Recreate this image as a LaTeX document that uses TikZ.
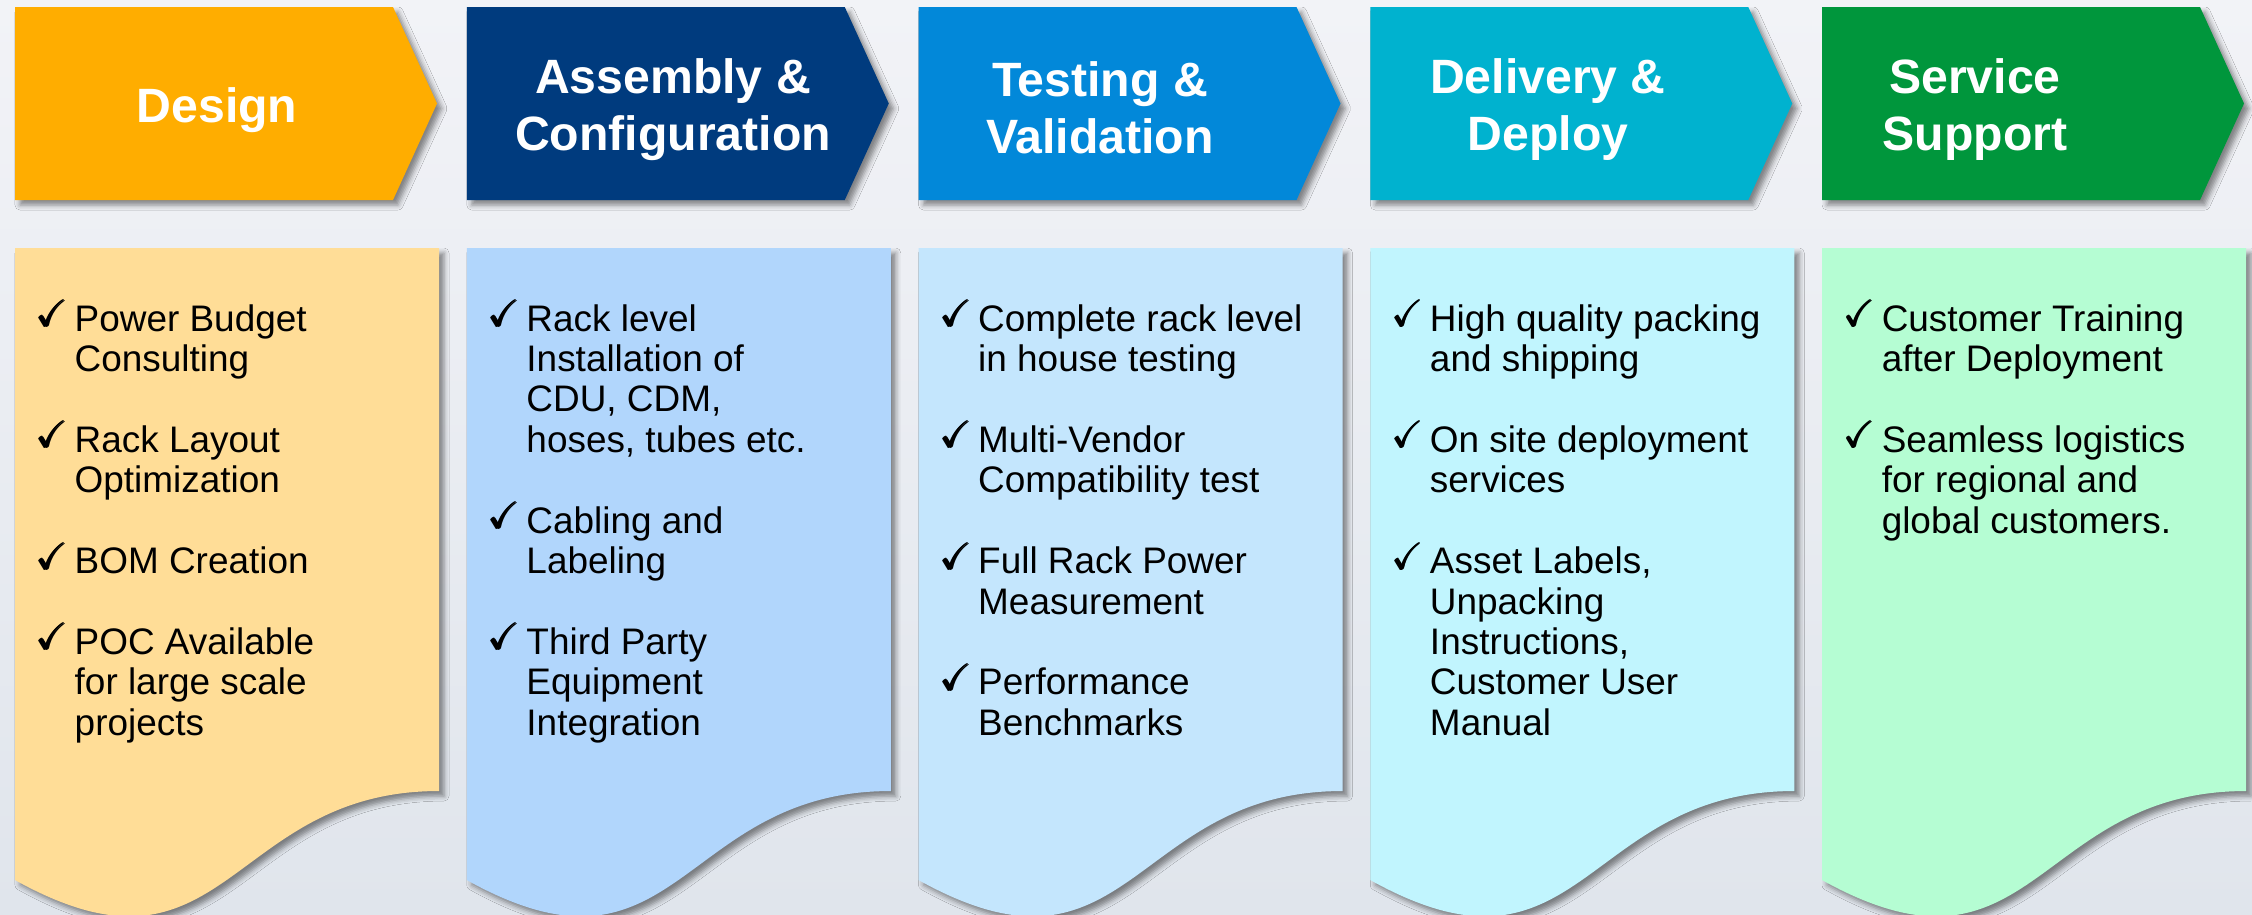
\documentclass[tikz,border=0pt]{standalone}
\usepackage{amsmath, amssymb}
\usepackage{fontspec}
\setmainfont{Liberation Sans}
\usetikzlibrary{shadows.blur}
\definecolor{bgTop}{RGB}{242, 243, 247}
\definecolor{bgBottom}{RGB}{224, 229, 236}
\definecolor{designHead}{RGB}{255, 173, 0}
\definecolor{designCard}{RGB}{255, 221, 151}
\definecolor{assemblyHead}{RGB}{0, 59, 126}
\definecolor{assemblyCard}{RGB}{177, 214, 252}
\definecolor{testingHead}{RGB}{2, 136, 217}
\definecolor{testingCard}{RGB}{196, 230, 253}
\definecolor{deliveryHead}{RGB}{0, 178, 207}
\definecolor{deliveryCard}{RGB}{193, 245, 254}
\definecolor{serviceHead}{RGB}{0, 150, 60}
\definecolor{serviceCard}{RGB}{181, 253, 211}
\newcommand{\tick}{\smash{\raisebox{1.3pt}{\fontsize{10.6}{10.6}\selectfont$\pmb{\checkmark}$}}}
\newcommand{\ticklist}[1]{\begin{tabular}[t]{@{}p{0.37cm}@{}l@{}}#1\end{tabular}}

\begin{document}
\begin{tikzpicture}[x=0.01cm, y=-0.01cm,
    soft shadow/.style={blur shadow={shadow xshift=0.05cm, shadow yshift=-0.05cm,
        shadow blur radius=0.05cm, shadow opacity=45}},
    headtext/.style={align=center, text=white, inner sep=0pt,
        font=\bfseries\fontsize{13.7}{16.2}\selectfont},
    listtext/.style={anchor=base west, inner sep=0pt, align=left,
        font=\fontsize{10.5}{11.5}\selectfont}]
  \useasboundingbox (0,0) rectangle (2252,914);
  \shade[top color=bgTop, bottom color=bgBottom] (0,0) rectangle (2252,914);

  % chevrons on top, wavy cards below
  \foreach \L/\head/\card in {15/designHead/designCard, 466.75/assemblyHead/assemblyCard,
      918.5/testingHead/testingCard, 1370.25/deliveryHead/deliveryCard,
      1822/serviceHead/serviceCard} {
    \fill[\head, soft shadow] (\L,7) -- ++(378,0) -- ++(44,96.5) -- ++(-44,96.5)
        -- ++(-378,0) -- cycle;
    \fill[\card, soft shadow] (\L,248) -- ++(424,0) -- ++(0,543)
        .. controls +(-212,0) and +(212,118) .. (\L,880) -- cycle;
  }

  \node[headtext] (design)   at (217,110)  {Design};
  \node[headtext] (assembly) at (673,110)  {Assembly \&\\Configuration};
  \node[headtext] (testing)  at (1100,108) {Testing \&\\Validation};
  \node[headtext] (delivery) at (1548,110) {Delivery \&\\Deploy};
  \node[headtext] (service)  at (1975,110) {Service\\Support};

  \node[listtext] (designList) at (37,331) {\ticklist{
    \tick & Power Budget\\ & Consulting\\[11.5pt]
    \tick & Rack Layout\\ & Optimization\\[11.5pt]
    \tick & BOM Creation\\[11.5pt]
    \tick & POC Available\\ & for large scale\\ & projects}};
  \node[listtext] (assemblyList) at (488.75,331) {\ticklist{
    \tick & Rack level\\ & Installation of\\ & CDU, CDM,\\ & hoses, tubes etc.\\[11.5pt]
    \tick & Cabling and\\ & Labeling\\[11.5pt]
    \tick & Third Party\\ & Equipment\\ & Integration}};
  \node[listtext] (testingList) at (940.5,331) {\ticklist{
    \tick & Complete rack level\\ & in house testing\\[11.5pt]
    \tick & Multi-Vendor\\ & Compatibility test\\[11.5pt]
    \tick & Full Rack Power\\ & Measurement\\[11.5pt]
    \tick & Performance\\ & Benchmarks}};
  \node[listtext] (deliveryList) at (1392.25,331) {\ticklist{
    \tick & High quality packing\\ & and shipping\\[11.5pt]
    \tick & On site deployment\\ & services\\[11.5pt]
    \tick & Asset Labels,\\ & Unpacking\\ & Instructions,\\ & Customer User\\ & Manual}};
  \node[listtext] (serviceList) at (1844,331) {\ticklist{
    \tick & Customer Training\\ & after Deployment\\[11.5pt]
    \tick & Seamless logistics\\ & for regional and\\ & global customers.}};
\end{tikzpicture}
\end{document}
